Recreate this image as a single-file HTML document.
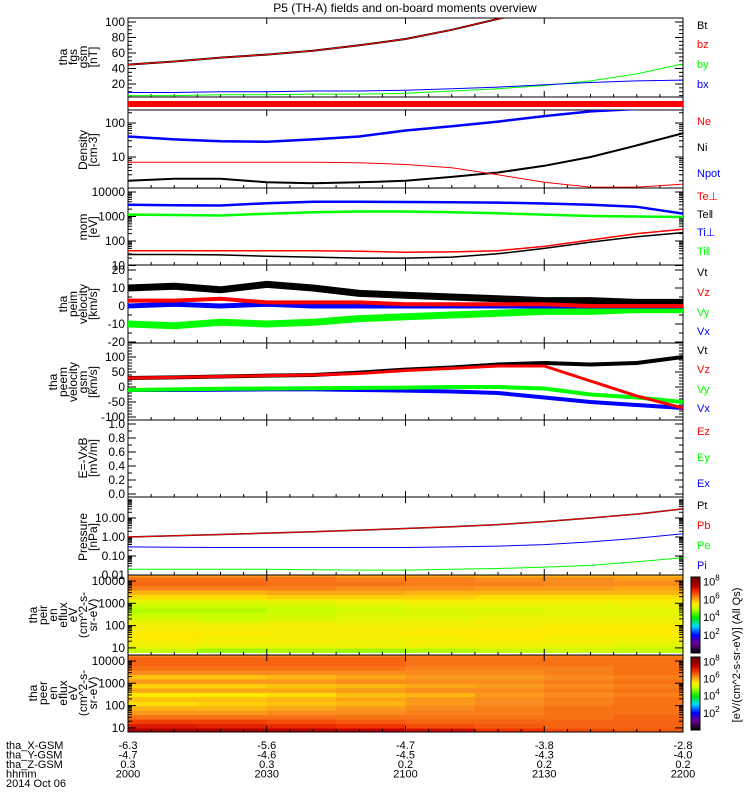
<!DOCTYPE html>
<html><head><meta charset="utf-8">
<style>
html,body{margin:0;padding:0;background:#fff;}
svg{display:block;font-family:"Liberation Sans",sans-serif;}
</style></head>
<body>
<svg id="chart" width="750" height="800" viewBox="0 0 750 800" xmlns="http://www.w3.org/2000/svg" fill="#000">
<rect width="750" height="800" fill="#fff"/>
<text x="405" y="12" text-anchor="middle" font-size="12">P5 (TH-A) fields and on-board moments overview</text>
</svg>
<script>
// ---------- data ----------
const tMin = [0,10,20,30,40,50,60,70,80,90,100,110,120];
const tickLabelsHHMM = ["2000","2030","2100","2130","2200"];
const tickLabelsX = ["-6.3","-5.6","-4.7","-3.8","-2.8"];
const tickLabelsY = ["-4.7","-4.6","-4.5","-4.3","-4.0"];
const tickLabelsZ = ["0.3","0.3","0.2","0.2","0.2"];
// FGM (nT)
const fgsBt = [45,49,54,58,63,70,78,90,104,118,130,140,150];
const fgsBy = [5,5,6,6,7,7,8,11,14,18,24,33,46];
const fgsBx = [9,9,10,10,11,11,12,14,16,19,22,24,25];
// Density
const denNe = [40,33,29,28,33,40,60,80,110,160,220,260,280];
const denNi = [2.0,2.3,2.3,1.8,1.7,1.8,2.0,2.6,3.5,5.5,10,22,50];
const denNpot = [7,7,7,7,7,6.8,6.0,4.8,3.0,1.8,1.3,1.3,1.6];
// Temperature
const tmpTePerp = [3000,2900,2800,3500,4000,4000,3900,3800,3700,3400,3000,2500,1300];
const tmpTePar = [1200,1150,1100,1300,1500,1600,1600,1500,1350,1200,1050,1000,950];
const tmpTiPerp = [40,40,40,40,40,38,35,36,40,60,110,200,300];
const tmpTiPar = [28,28,27,24,22,20,20,22,30,50,90,150,220];
// peim velocity (km/s)
const vimT = [10,11,9,12,10,7,6,5,4,3,3,2,2];
const vimZ = [3,3,4,2,2,2,1,1,1,1,0,0,0];
const vimY = [-10,-11,-9,-10,-9,-7,-6,-5,-4,-3,-3,-2,-2];
const vimX = [0,1,0,1,0,0,0,0,0,0,0,0,0];
// peem velocity (km/s)
const vemT = [30,32,35,38,40,48,58,65,75,80,75,80,100];
const vemZ = [30,32,35,38,40,45,55,62,70,70,20,-30,-70];
const vemY = [-10,-8,-6,-5,-4,-3,-2,0,0,-5,-25,-35,-50];
const vemX = [-10,-10,-9,-8,-8,-10,-12,-15,-20,-35,-50,-60,-70];
// Pressure (nPa)
const preT = [1.0,1.15,1.35,1.6,1.9,2.3,2.8,3.5,4.5,6.5,10,16,30];
const preE = [0.30,0.29,0.28,0.28,0.28,0.28,0.28,0.30,0.33,0.40,0.55,0.85,1.5];
const preI = [0.02,0.02,0.02,0.02,0.019,0.018,0.018,0.02,0.022,0.026,0.032,0.05,0.08];
// Spectrograms: log10 energies and log10 flux [row][time col]
const specEnergyLog = [0.9,1.1,1.3,1.5,1.7,1.9,2.1,2.3,2.5,2.7,2.9,3.1,3.3,3.5,3.7,3.9,4.1,4.3];
const specTimeCols = [0,15,30,45,60,75,90,105,120];
const peirFlux = [
 [5.0,4.8,4.9,4.8,4.9,5.0,5.1,5.0],
 [5.4,5.3,5.3,5.4,5.4,5.4,5.3,5.2],
 [5.5,5.5,5.5,5.4,5.5,5.5,5.5,5.4],
 [5.6,5.5,5.5,5.5,5.5,5.6,5.5,5.5],
 [5.6,5.6,5.5,5.5,5.6,5.6,5.6,5.6],
 [5.5,5.5,5.5,5.5,5.5,5.5,5.6,5.6],
 [5.4,5.4,5.5,5.4,5.5,5.5,5.5,5.5],
 [5.2,5.1,5.2,5.3,5.3,5.4,5.4,5.4],
 [5.0,5.0,5.1,5.2,5.2,5.3,5.3,5.3],
 [4.9,4.9,5.0,5.1,5.2,5.2,5.3,5.3],
 [5.0,5.0,5.1,5.2,5.3,5.3,5.3,5.4],
 [5.3,5.3,5.4,5.5,5.5,5.5,5.5,5.5],
 [5.7,5.7,5.8,5.8,5.8,5.7,5.7,5.7],
 [6.0,6.0,6.1,6.1,6.0,6.0,6.0,6.0],
 [6.4,6.4,6.4,6.3,6.3,6.2,6.2,6.1],
 [6.6,6.6,6.5,6.5,6.4,6.4,6.3,6.3],
 [6.5,6.5,6.5,6.4,6.4,6.3,6.3,6.2],
 [6.2,6.2,6.2,6.1,6.1,6.0,6.0,6.0]];
const peerFlux = [
 [7.8,7.8,7.7,7.6,7.4,7.0,6.8,6.7],
 [7.3,7.2,7.1,7.0,6.8,6.7,6.6,6.6],
 [6.9,6.9,6.8,6.7,6.6,6.6,6.6,6.6],
 [6.5,6.5,6.5,6.5,6.5,6.5,6.5,6.6],
 [6.2,6.2,6.3,6.3,6.4,6.4,6.5,6.5],
 [6.0,6.0,6.1,6.2,6.3,6.4,6.5,6.5],
 [5.7,5.8,5.9,6.0,6.2,6.3,6.4,6.5],
 [5.9,5.9,6.0,6.1,6.2,6.3,6.4,6.5],
 [5.6,5.6,5.7,5.9,6.0,6.2,6.3,6.4],
 [6.1,6.1,6.1,6.2,6.3,6.3,6.4,6.5],
 [5.8,5.8,5.9,6.0,6.1,6.2,6.3,6.4],
 [6.2,6.2,6.2,6.3,6.3,6.3,6.4,6.5],
 [5.9,5.9,6.0,6.1,6.2,6.2,6.3,6.4],
 [6.3,6.3,6.3,6.3,6.3,6.3,6.4,6.5],
 [6.5,6.5,6.5,6.5,6.4,6.4,6.4,6.5],
 [6.6,6.6,6.6,6.6,6.5,6.5,6.5,6.5],
 [6.6,6.6,6.6,6.6,6.5,6.5,6.5,6.5],
 [6.4,6.4,6.4,6.4,6.4,6.4,6.4,6.4]];

// ---------- helpers ----------
const NS="http://www.w3.org/2000/svg";
const svg=document.getElementById('chart');
const X0=128,X1=683;
function xs(t){return X0+(t/120)*(X1-X0);}
function mk(tag,attrs,parent){const e=document.createElementNS(NS,tag);for(const k in attrs)e.setAttribute(k,attrs[k]);(parent||svg).appendChild(e);return e;}
function linY(y0,y1,v0,v1){return v=>y0+(v-v0)/(v1-v0)*(y1-y0);}
function logY(yA,vA,yB,vB){const a=Math.log10(vA),b=Math.log10(vB);return v=>yA+(Math.log10(v)-a)/(b-a)*(yB-yA);}

function frame(top,bot,name){
  const r=mk('rect',{x:X0,y:top,width:X1-X0,height:bot-top,fill:'none',stroke:'#000','stroke-width':1});
  
  
  [30,60,90].forEach(t=>{mk('line',{x1:xs(t),x2:xs(t),y1:bot,y2:bot-6,stroke:'#000'});mk('line',{x1:xs(t),x2:xs(t),y1:top,y2:top+6,stroke:'#000'});});
  for(let t=5;t<120;t+=5){if(t%30)mk('line',{x1:xs(t),x2:xs(t),y1:bot,y2:bot-3,stroke:'#000'});}
}
function ytick(y,label,len,top,bot){
  if(y<top-0.5||y>bot+0.5)return;
  mk('line',{x1:X0,x2:X0+len,y1:y,y2:y,stroke:'#000'});
  mk('line',{x1:X1,x2:X1-len,y1:y,y2:y,stroke:'#000'});
  if(label!==null){const t=mk('text',{x:X0-3,y:y+4,'text-anchor':'end','font-size':12,fill:'#000'});t.textContent=label;
    
    }
}
function logTicks(f,decades,labels,top,bot){
  decades.forEach((d,i)=>{ytick(f(Math.pow(10,d)),labels[i],8,top,bot);
    for(let m=2;m<10;m++)ytick(f(m*Math.pow(10,d)),null,4,top,bot);});
}
function ylabel(lines,cy,xRight,name){
  const g=mk('g',{});
  
  
  const n=lines.length;
  lines.forEach((s,i)=>{const x=xRight-(n-1-i)*10;
    const t=mk('text',{x:x,y:cy,transform:`rotate(-90 ${x} ${cy})`,'text-anchor':'middle','font-size':12,fill:'#000'},g);t.textContent=s;});
}
function series(ts,vals,f,color,w,top,bot,name){
  const clip='c'+top;
  if(!document.getElementById(clip)){const cp=mk('clipPath',{id:clip});mk('rect',{x:X0,y:top,width:X1-X0,height:bot-top},cp);}
  const pts=ts.map((t,i)=>xs(t).toFixed(1)+','+f(vals[i]).toFixed(1)).join(' ');
  const p=mk('polyline',{points:pts,fill:'none',stroke:color,'stroke-width':w,'clip-path':`url(#${clip})`,'stroke-linejoin':'round'});
  
  
}
function legend(txt,y,color,name){
  const t=mk('text',{x:697,y:y+4,fill:color,'font-size':11});t.textContent=txt;
  
  
}

// ---------- Panel 1: FGM ----------
(function(){const top=18,bot=97;const f=linY(99.5,22,0,100);
  frame(top,bot,'fgm-panel');
  [20,40,60,80,100].forEach(v=>ytick(f(v),String(v),8,top,bot));
  for(let v=5;v<=100;v+=5)if(v%20)ytick(f(v),null,4,top,bot);
  series(tMin,fgsBt,f,'#000',2,top,bot,'bt-line');
  series(tMin,fgsBt,f,'#f00',1,top,bot,'bz-line');
  series(tMin,fgsBy,f,'#0f0',1,top,bot,'by-line');
  series(tMin,fgsBx,f,'#00f',1,top,bot,'bx-line');
  ylabel(['tha','fgs','gsm','[nT]'],57,97,'fgm-y-title');
  legend('Bt',25,'#000','legend-bt');legend('bz',44,'#f00','legend-bz');legend('by',64,'#0f0','legend-by');legend('bx',84,'#00f','legend-bx');
})();
// ---------- Panel 2: flag bar ----------
(function(){mk('rect',{x:X0,y:97,width:X1-X0,height:13,fill:'none',stroke:'#000'});
  const r=mk('rect',{x:X0,y:101,width:X1-X0,height:6,fill:'#f00'});
  
  })();
// ---------- Panel 3: Density ----------
(function(){const top=110,bot=188;const f=logY(123,100,157,10);
  frame(top,bot,'density-panel');
  logTicks(f,[0,1,2],[null,'10','100'],top,bot);
  series(tMin,denNe,f,'#00f',2.5,top,bot,'ne-line');
  series(tMin,denNi,f,'#000',2,top,bot,'ni-line');
  series(tMin,denNpot,f,'#f00',1,top,bot,'npot-line');
  ylabel(['Density','[cm-3]'],150,97,'density-y-title');
  legend('Ne',121,'#f00','legend-ne');legend('Ni',147,'#000','legend-ni');legend('Npot',173,'#00f','legend-npot');
})();
// ---------- Panel 4: Temperature ----------
(function(){const top=188,bot=265;const f=logY(192,10000,241,100);
  frame(top,bot,'temperature-panel');
  logTicks(f,[1,2,3,4],['10','100','1000','10000'],top,bot);
  series(tMin,tmpTePerp,f,'#00f',2.5,top,bot,'te-perp-line');
  series(tMin,tmpTePar,f,'#0f0',2.5,top,bot,'te-par-line');
  series(tMin,tmpTiPerp,f,'#f00',1.5,top,bot,'ti-perp-line');
  series(tMin,tmpTiPar,f,'#000',1.5,top,bot,'ti-par-line');
  ylabel(['mom','[eV]'],227,97,'temperature-y-title');
  legend('Te⊥',196,'#f00','legend-te-perp');legend('Te‖',214,'#000','legend-te-par');legend('Ti⊥',232,'#00f','legend-ti-perp');legend('Ti‖',251,'#0f0','legend-ti-par');
})();
// ---------- Panel 5: peim velocity ----------
(function(){const top=265,bot=343;const f=linY(306,288,0,10);
  frame(top,bot,'peim-velocity-panel');
  [-20,-10,0,10,20].forEach(v=>ytick(f(v),String(v),8,top,bot));
  for(let v=-20;v<=20;v+=5)if(v%10)ytick(f(v),null,4,top,bot);
  series(tMin,vimY,f,'#0f0',7,top,bot,'peim-vy-line');
  series(tMin,vimX,f,'#00f',5,top,bot,'peim-vx-line');
  series(tMin,vimT,f,'#000',7,top,bot,'peim-vt-line');
  series(tMin,vimZ,f,'#f00',4,top,bot,'peim-vz-line');
  ylabel(['tha','peim','velocity','[km/s]'],304,97,'peim-y-title');
  legend('Vt',272,'#000','legend-peim-vt');legend('Vz',292,'#f00','legend-peim-vz');legend('Vy',312,'#0f0','legend-peim-vy');legend('Vx',331,'#00f','legend-peim-vx');
})();
// ---------- Panel 6: peem velocity ----------
(function(){const top=343,bot=420;const f=linY(387,372,0,50);
  frame(top,bot,'peem-velocity-panel');
  [-100,-50,0,50,100,150].forEach(v=>ytick(f(v),String(v),8,top,bot));
  for(let v=-100;v<=150;v+=10)if(v%50)ytick(f(v),null,4,top,bot);
  series(tMin,vemX,f,'#00f',4,top,bot,'peem-vx-line');
  series(tMin,vemY,f,'#0f0',4,top,bot,'peem-vy-line');
  series(tMin,vemT,f,'#000',4,top,bot,'peem-vt-line');
  series(tMin,vemZ,f,'#f00',3,top,bot,'peem-vz-line');
  ylabel(['tha','peem','velocity','gsm','[km/s]'],382,97,'peem-y-title');
  legend('Vt',350,'#000','legend-peem-vt');legend('Vz',369,'#f00','legend-peem-vz');legend('Vy',389,'#0f0','legend-peem-vy');legend('Vx',408,'#00f','legend-peem-vx');
})();
// ---------- Panel 7: E field (empty) ----------
(function(){const top=420,bot=497;const f=linY(494,424,0,1);
  frame(top,bot,'efield-panel');
  [0,0.2,0.4,0.6,0.8,1.0].forEach(v=>ytick(f(v),v.toFixed(1),8,top,bot));
  for(let v=0.1;v<1;v+=0.2)ytick(f(v),null,4,top,bot);
  ylabel(['E=-VxB','[mV/m]'],458,97,'efield-y-title');
  legend('Ez',431,'#f00','legend-ez');legend('Ey',457,'#0f0','legend-ey');legend('Ex',483,'#00f','legend-ex');
})();
// ---------- Panel 8: Pressure ----------
(function(){const top=497,bot=575;const f=logY(518,10,556,0.1);
  frame(top,bot,'pressure-panel');
  logTicks(f,[-2,-1,0,1],['0.01','0.10','1.00','10.00'],top,bot);
  series(tMin,preT,f,'#000',1.5,top,bot,'pt-line');
  series(tMin,preT,f,'#f00',1,top,bot,'pb-line');
  series(tMin,preE,f,'#00f',1,top,bot,'pe-line');
  series(tMin,preI,f,'#0f0',1,top,bot,'pi-line');
  ylabel(['Pressure','[nPa]'],537,97,'pressure-y-title');
  legend('Pt',505,'#000','legend-pt');legend('Pb',525,'#f00','legend-pb');legend('Pe',545,'#0f0','legend-pe');legend('Pi',565,'#00f','legend-pi');
})();
// ---------- Spectrograms ----------
const cstops=[[0,[0,0,0]],[1,[110,0,140]],[2,[0,0,255]],[3,[0,220,255]],[4,[0,230,0]],[5,[200,255,0]],[5.6,[255,235,0]],[6.3,[250,140,30]],[7,[240,50,0]],[7.6,[190,0,0]],[8.5,[110,0,0]]];
function cmap(v){for(let i=1;i<cstops.length;i++){if(v<=cstops[i][0]){const [a,ca]=cstops[i-1],[b,cb]=cstops[i];const k=Math.max(0,(v-a)/(b-a));
  return `rgb(${ca.map((c,j)=>Math.round(c+(cb[j]-c)*k)).join(',')})`;}}return 'rgb(110,0,0)';}
function spectro(top,bot,flux,name,title,cy){
  const fy=logY(top+6,10000,top+6+3*22.3,10);
  const dE=0.2;
  const g=mk('g',{});
  
  
  const cp=mk('clipPath',{id:'cl'+name});mk('rect',{x:X0,y:top,width:X1-X0,height:bot-top},cp);
  g.setAttribute('clip-path',`url(#cl${name})`);
  flux.forEach((row,ri)=>{const e=specEnergyLog[ri];
    const y1=fy(Math.pow(10,e+dE/2)),y2=fy(Math.pow(10,e-dE/2));
    row.forEach((v,ci)=>{const x1=xs(specTimeCols[ci]),x2=xs(specTimeCols[ci+1]);
      const r=mk('rect',{x:x1.toFixed(1),y:y1.toFixed(1),width:(x2-x1+0.6).toFixed(1),height:(y2-y1+0.6).toFixed(1),fill:cmap(v)},g);
      
      });});
  frame(top,bot,name);
  logTicks(fy,[1,2,3,4],['10','100','1000','10000'],top,bot);
  ylabel(title,cy,97,name+'-y-title');
  const cb=mk('g',{});
  
  
  const n=40;for(let i=0;i<n;i++){const v=8.5*i/(n-1);const y=bot-2-(i+1)*(bot-top-4)/n;
    mk('rect',{x:691,y:y.toFixed(1),width:9,height:((bot-top-4)/n+0.5).toFixed(1),fill:cmap(v)},cb);}
  mk('rect',{x:691,y:top+2,width:9,height:bot-top-4,fill:'none',stroke:'#000'},cb);
  const cbf=v=>bot-2-(v/8.5)*(bot-top-4);
  [2,4,6,8].forEach(p=>{const y=cbf(p);const t=mk('text',{x:703,y:y+4,'font-size':11,fill:'#000'},cb);t.textContent='10';
    const s=mk('tspan',{dy:-5,'font-size':8},t);s.textContent=String(p);});
}
spectro(575,655,peirFlux,'peir',['tha','peir','en','eflux','eV','(cm^2-s-','sr-eV)'],615);
spectro(655,732,peerFlux,'peer',['tha','peer','en','eflux','eV','(cm^2-s-','sr-eV)'],693);
(function(){const t=mk('text',{x:740,y:655,transform:'rotate(-90 740 655)','text-anchor':'middle','font-size':11,fill:'#000'});
  t.textContent='[eV/(cm^2-s-sr-eV)] (All Qs)';
  
  })();
// ---------- Bottom time axis labels ----------
(function(){const rows=[['tha_X-GSM',tickLabelsX],['tha_Y-GSM',tickLabelsY],['tha_Z-GSM',tickLabelsZ],['hhmm',tickLabelsHHMM]];
  rows.forEach((r,i)=>{const y=745+i*9.5;
    const l=mk('text',{x:6,y:y+4,'font-size':11,fill:'#000'});l.textContent=r[0];
    
    
    r[1].forEach((s,j)=>{const t=mk('text',{x:xs(j*30),y:y+4,'text-anchor':'middle','font-size':11,fill:'#000'});t.textContent=s;
      
      });});
  const d=mk('text',{x:6,y:787,'font-size':11,fill:'#000'});d.textContent='2014 Oct 06';
  
  })();
</script>
</body></html>
